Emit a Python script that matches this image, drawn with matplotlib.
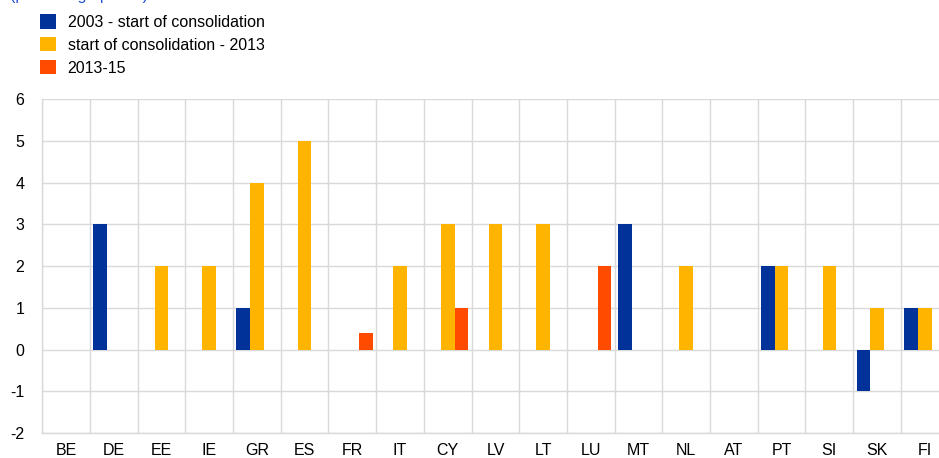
import numpy as np
import matplotlib.pyplot as plt
from matplotlib.patches import Patch

plt.rcParams['font.family'] = ['Liberation Sans', 'DejaVu Sans']
plt.rcParams['axes.unicode_minus'] = False

countries = ['BE', 'DE', 'EE', 'IE', 'GR', 'ES', 'FR', 'IT', 'CY', 'LV',
             'LT', 'LU', 'MT', 'NL', 'AT', 'PT', 'SI', 'SK', 'FI']

pre_consol = [0, 3, 0, 0, 1, 0, 0, 0, 0, 0, 0, 0, 3, 0, 0, 2, 0, -1, 1]
consol_2013 = [0, 0, 2, 2, 4, 5, 0, 2, 3, 3, 3, 0, 0, 2, 0, 2, 2, 1, 1]
post_2013 = [0, 0, 0, 0, 0, 0, 0.4, 0, 1, 0, 0, 2, 0, 0, 0, 0, 0, 0, 0]

series_labels = ['2003 - start of consolidation', 'start of consolidation - 2013', '2013-15']
colors = ['#003299', '#FFB400', '#FF4B00']
grid_col = '#d9d9d9'

W, H = 939, 458
fig = plt.figure(figsize=(W / 100, H / 100), dpi=100)
ax = fig.add_axes([42.3 / W, 1 - 433 / H, (948.6 - 42.3) / W, (433 - 99.3) / H])

x = np.arange(len(countries))
bw = 0.287
for i, (vals, c) in enumerate(zip([pre_consol, consol_2013, post_2013], colors)):
    ax.bar(x + (i - 1) * bw, vals, width=bw, color=c, zorder=3)

ax.set_xlim(-0.5, len(countries) - 0.5)
ax.set_ylim(-2, 6)
ax.set_yticks(range(-2, 7))
ax.set_xticks(x)
ax.set_xticklabels(countries)
ax.set_xticks(np.arange(-0.5, len(countries)), minor=True)

ax.grid(axis='y', which='major', color=grid_col, lw=1, zorder=0)
ax.grid(axis='x', which='minor', color=grid_col, lw=1, zorder=0)
ax.tick_params(which='both', length=0)
ax.tick_params(axis='x', labelsize=11.5, pad=7)
ax.tick_params(axis='y', labelsize=11.5, pad=13)
for s in ['top', 'right']:
    ax.spines[s].set_visible(False)
for s in ['left', 'bottom']:
    ax.spines[s].set_color(grid_col)
    ax.spines[s].set_linewidth(1)

# subtitle sits above the top edge, only its descenders show
fig.text(10 / W, 1.0, '(percentage points)', color='#1f4fd0',
         fontsize=11.5, va='baseline', ha='left')

handles = [Patch(facecolor=c, edgecolor='none') for c in colors]
fig.legend(handles, series_labels, loc='upper left',
           bbox_to_anchor=(34 / W, 1 - 8 / H), frameon=False,
           fontsize=11.5, handlelength=1.0, handleheight=1.0,
           handletextpad=0.7, labelspacing=0.45, borderaxespad=0)

fig.savefig('out.png', dpi=100)
